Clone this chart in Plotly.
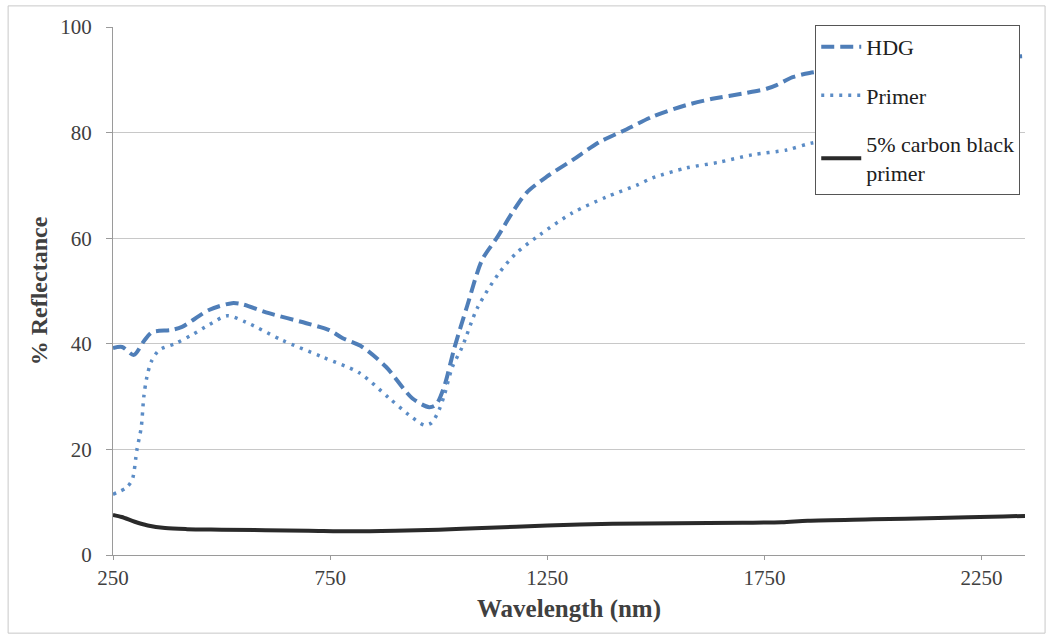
import plotly.graph_objects as go

# Wavelength (nm) and % reflectance for each coating
hdg_nm = [250, 271, 298, 321, 340, 384, 409, 471, 524, 547, 609, 695, 748, 778, 824, 879, 939,
          978, 994, 1013, 1036, 1066, 1100, 1135, 1169, 1202, 1248, 1308, 1370, 1432, 1492,
          1570, 1630, 1708, 1755, 1778, 1815, 1854, 1900, 2000, 2100, 2200, 2350]
hdg_refl = [39.2, 39.4, 37.9, 40.5, 42.2, 42.6, 43.2, 46.4, 47.7, 47.5, 45.8, 43.9, 42.6, 41.1,
            39.4, 35.6, 29.7, 28.0, 28.5, 32.0, 39.2, 47.3, 55.9, 60.2, 64.8, 68.6, 71.6, 74.8,
            78.2, 80.6, 83.0, 85.2, 86.4, 87.5, 88.3, 89.0, 90.5, 91.3, 91.8, 92.5, 93.2, 93.8, 94.5]

primer_nm = [250, 280, 294, 305, 315, 321, 328, 338, 356, 395, 432, 471, 513, 556, 639, 732,
             817, 886, 932, 967, 983, 1001, 1013, 1031, 1054, 1089, 1139, 1179, 1232, 1308,
             1386, 1455, 1492, 1570, 1646, 1722, 1801, 1858, 1950, 2050, 2150, 2250, 2350]
primer_refl = [11.5, 12.7, 14.2, 19.9, 24.2, 30.0, 33.7, 36.6, 38.8, 40.1, 41.7, 43.6, 45.3,
               44.1, 40.7, 37.5, 34.5, 29.7, 26.5, 24.6, 25.0, 27.5, 30.3, 35.5, 39.4, 46.8,
               53.4, 57.2, 60.6, 64.8, 67.8, 70.0, 71.4, 73.3, 74.4, 75.8, 76.7, 78.0, 79.0,
               79.8, 80.5, 81.0, 81.4]

cb_nm = [250, 270, 300, 330, 370, 420, 500, 700, 800, 900, 1000, 1100, 1250, 1400, 1550,
         1700, 1790, 1850, 2000, 2150, 2300, 2350]
cb_refl = [7.6, 7.2, 6.3, 5.6, 5.1, 4.9, 4.8, 4.6, 4.5, 4.6, 4.8, 5.1, 5.6, 5.9, 6.0, 6.1,
           6.2, 6.5, 6.75, 7.0, 7.3, 7.4]

x_ticks = [250, 750, 1250, 1750, 2250]
y_ticks = [0, 20, 40, 60, 80, 100]

serif = "Times New Roman, Liberation Serif, serif"

fig = go.Figure()
fig.add_trace(go.Scatter(
    x=hdg_nm, y=hdg_refl, name="HDG", mode="lines", legendgroup="a",
    line=dict(color="#4f7eb8", width=4, dash="13px,6px", shape="spline", smoothing=0.8),
))
fig.add_trace(go.Scatter(
    x=primer_nm, y=primer_refl, name="Primer", mode="lines", legendgroup="b",
    line=dict(color="#5b8cc6", width=3.5, dash="3px,6px", shape="spline", smoothing=0.8),
))
fig.add_trace(go.Scatter(
    x=cb_nm, y=cb_refl, name="5% carbon black<br>primer", mode="lines", legendgroup="c",
    line=dict(color="#2a2a2a", width=4, shape="spline", smoothing=0.8),
))

fig.update_layout(
    width=1051, height=639,
    margin=dict(l=113, r=26, t=27, b=84),
    paper_bgcolor="white", plot_bgcolor="white",
    font=dict(family=serif, size=21, color="#404040"),
    showlegend=True,
    legend=dict(
        x=0.77, y=1.004, xanchor="left", yanchor="top",
        bgcolor="white", bordercolor="#555555", borderwidth=1,
        font=dict(family=serif, size=22, color="#202020"),
        tracegroupgap=17, itemwidth=40,
    ),
    xaxis=dict(
        range=[250, 2350], tickvals=x_ticks, ticktext=[str(v) for v in x_ticks],
        tickfont=dict(family=serif, size=21, color="#404040"),
        showgrid=False, showline=True, linecolor="#9a9a9a", linewidth=1,
        ticks="outside", ticklen=4, tickcolor="#9a9a9a", zeroline=False,
        title=dict(text="<b>Wavelength (nm)</b>", font=dict(family=serif, size=25, color="#404040"),
                   standoff=10),
    ),
    yaxis=dict(
        range=[0, 100], tickvals=y_ticks, showgrid=True, gridcolor="#c8c8c8", gridwidth=1,
        tickfont=dict(family=serif, size=21, color="#404040"),
        showline=True, linecolor="#9a9a9a", linewidth=1, ticks="outside", ticklen=6,
        tickcolor="#9a9a9a", zeroline=False, ticklabelstandoff=10,
        title=dict(text="<b>% Reflectance</b>", font=dict(family=serif, size=24, color="#404040"),
                   standoff=5),
    ),
)

# thin frame around the whole chart area
fig.add_shape(type="rect", xref="paper", yref="paper",
              x0=-0.115, x1=1.022, y0=-0.148, y1=1.04,
              line=dict(color="#c8c8c8", width=1), fillcolor="rgba(0,0,0,0)", layer="below")

fig.write_html("out.html")
